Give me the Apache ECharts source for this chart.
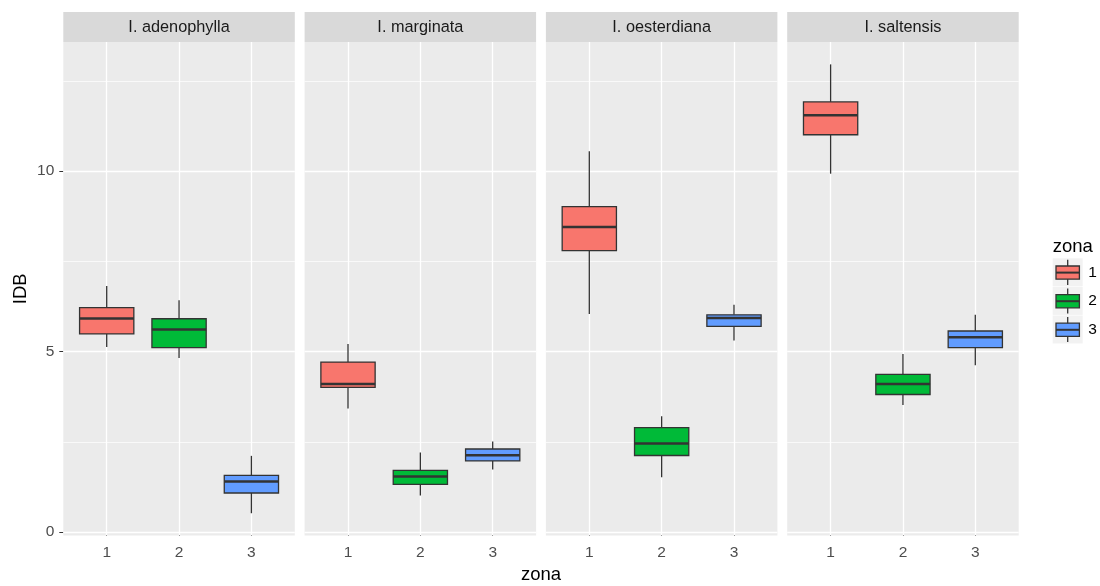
<!DOCTYPE html>
<html>
<head>
<meta charset="utf-8">
<script src="https://cdn.jsdelivr.net/npm/echarts@6/dist/echarts.min.js"></script>
<style>html,body{margin:0;padding:0;background:#fff;}#c{width:1100px;height:586px;}</style>
</head>
<body>
<div id="c"></div>
<script>
// ---- data ----
const facets = ['I. adenophylla', 'I. marginata', 'I. oesterdiana', 'I. saltensis'];
const zones = ['1', '2', '3'];
// per facet, per zone (1,2,3)
const whiskerLow = [[5.13, 4.82, 0.52], [3.42, 1.01, 1.73], [6.04, 1.52, 5.31], [9.93, 3.52, 4.62]];
const quartile1  = [[5.49, 5.11, 1.08], [4.01, 1.32, 1.97], [7.80, 2.12, 5.70], [11.01, 3.81, 5.11]];
const medians    = [[5.92, 5.61, 1.40], [4.10, 1.54, 2.13], [8.45, 2.45, 5.93], [11.55, 4.10, 5.40]];
const quartile3  = [[6.22, 5.91, 1.57], [4.71, 1.71, 2.30], [9.02, 2.89, 6.02], [11.92, 4.37, 5.57]];
const whiskerHigh= [[6.82, 6.42, 2.11], [5.21, 2.20, 2.51], [10.55, 3.21, 6.30], [12.96, 4.93, 6.02]];
const yTicks = [0, 5, 10];
const yMinorTicks = [2.5, 7.5, 12.5];
const xTicks = [1, 2, 3];

// ---- styling ----
const FONT = 'Liberation Sans, Arial, sans-serif';
const fills = ['#F8766D', '#00BA38', '#619CFF'];
const edge = '#333333';
const panelLeft0 = 63.3, panelStep = 241.3, panelW = 231.5;
const panelTop = 42, panelBottom = 535.6;
const yMin = -0.1, yMax = 13.58;

const chart = echarts.init(document.getElementById('c'), null, {renderer: 'canvas'});

function renderBox(params, api) {
  const x = api.value(0);
  const lo = api.coord([x, api.value(1)]);
  const q1 = api.coord([x, api.value(2)]);
  const md = api.coord([x, api.value(3)]);
  const q3 = api.coord([x, api.value(4)]);
  const hi = api.coord([x, api.value(5)]);
  const w = api.size([0.75, 0])[0];
  const col = fills[api.value(6)];
  const cx = md[0];
  return {
    type: 'group',
    children: [
      {type: 'line', shape: {x1: cx, y1: lo[1], x2: cx, y2: q1[1]}, style: {stroke: edge, lineWidth: 1.3}},
      {type: 'line', shape: {x1: cx, y1: q3[1], x2: cx, y2: hi[1]}, style: {stroke: edge, lineWidth: 1.3}},
      {type: 'rect', shape: {x: cx - w / 2, y: q3[1], width: w, height: q1[1] - q3[1]},
        style: {fill: col, stroke: edge, lineWidth: 1.3}},
      {type: 'line', shape: {x1: cx - w / 2, y1: md[1], x2: cx + w / 2, y2: md[1]}, style: {stroke: edge, lineWidth: 2.5}}
    ]
  };
}

const grids = [], xAxes = [], yAxes = [], series = [], graphics = [];
facets.forEach((name, i) => {
  const left = panelLeft0 + i * panelStep;
  grids.push({
    left: left, width: panelW, top: panelTop, bottom: 586 - panelBottom,
    show: true, backgroundColor: '#EBEBEB', borderWidth: 0, containLabel: false
  });
  xAxes.push({
    type: 'value', gridIndex: i, min: 0.4, max: 3.6,
    splitLine: {show: false}, axisLine: {show: false},
    axisTick: {show: true, customValues: xTicks, length: 4, lineStyle: {color: edge, width: 1}},
    axisLabel: {show: true, customValues: xTicks, margin: 9, fontSize: 15.5, fontFamily: FONT, color: '#4D4D4D',
      formatter: v => String(v)}
  });
  yAxes.push({
    type: 'value', gridIndex: i, min: yMin, max: yMax,
    splitLine: {show: false}, axisLine: {show: false},
    axisTick: {show: i === 0, customValues: yTicks, length: 4, lineStyle: {color: edge, width: 1}},
    axisLabel: {show: i === 0, customValues: yTicks, margin: 9, fontSize: 15.5, fontFamily: FONT, color: '#4D4D4D',
      formatter: v => String(v)}
  });
  const data = zones.map((z, k) => [xTicks[k], whiskerLow[i][k], quartile1[i][k], medians[i][k], quartile3[i][k], whiskerHigh[i][k], k]);
  const lineData = [];
  yTicks.forEach(v => lineData.push({yAxis: v, lineStyle: {width: 1.3}}));
  yMinorTicks.forEach(v => lineData.push({yAxis: v, lineStyle: {width: 0.7}}));
  xTicks.forEach(v => lineData.push({xAxis: v, lineStyle: {width: 1.3}}));
  series.push({
    type: 'custom', xAxisIndex: i, yAxisIndex: i, z: 3,
    renderItem: renderBox, data: data,
    encode: {x: 0, y: [1, 2, 3, 4, 5]},
    markLine: {
      silent: true, z: 1, symbol: ['none', 'none'], animation: false,
      label: {show: false},
      lineStyle: {color: '#FFFFFF', type: 'solid', width: 1.3},
      emphasis: {disabled: true},
      data: lineData
    }
  });
  // strip
  graphics.push({
    type: 'rect', left: left, top: 12, silent: true,
    shape: {width: panelW, height: panelTop - 12},
    style: {fill: '#D9D9D9'}
  });
  graphics.push({
    type: 'text', x: left + panelW / 2, y: 27.5, silent: true,
    style: {text: name, fill: '#1A1A1A', font: '16.3px ' + FONT, align: 'center', verticalAlign: 'middle'}
  });
});

// axis titles
graphics.push({
  type: 'text', x: (panelLeft0 + panelLeft0 + 3 * panelStep + panelW) / 2, y: 575, silent: true,
  style: {text: 'zona', fill: '#000', font: '18.5px ' + FONT, align: 'center', verticalAlign: 'middle'}
});
graphics.push({
  type: 'text', x: 20.5, y: (panelTop + panelBottom) / 2, rotation: Math.PI / 2, silent: true,
  style: {text: 'IDB', fill: '#000', font: '18.5px ' + FONT, align: 'center', verticalAlign: 'middle'}
});

// legend
const legX = 1052.7, legY = 258.3, keyW = 30, keyH = 28.6;
graphics.push({
  type: 'text', x: legX, y: 246.5, silent: true,
  style: {text: 'zona', fill: '#000', font: '18.5px ' + FONT, align: 'left', verticalAlign: 'middle'}
});
zones.forEach((z, k) => {
  const y0 = legY + k * keyH;
  const cx = legX + keyW / 2, cy = y0 + keyH / 2;
  graphics.push({type: 'rect', x: legX, y: y0, silent: true, shape: {width: keyW, height: keyH - 0.6}, style: {fill: '#F2F2F2'}});
  graphics.push({type: 'line', silent: true, shape: {x1: cx, y1: y0 + 1.5, x2: cx, y2: y0 + keyH - 2}, style: {stroke: edge, lineWidth: 1.3}});
  graphics.push({type: 'rect', silent: true, shape: {x: legX + 3.3, y: cy - 6.6, width: keyW - 6.6, height: 13.2}, style: {fill: fills[k], stroke: edge, lineWidth: 1.3}});
  graphics.push({type: 'line', silent: true, shape: {x1: legX + 3.3, y1: cy, x2: legX + keyW - 3.3, y2: cy}, style: {stroke: edge, lineWidth: 2}});
  graphics.push({
    type: 'text', x: legX + keyW + 5.5, y: cy, silent: true,
    style: {text: z, fill: '#000', font: '15.5px ' + FONT, align: 'left', verticalAlign: 'middle'}
  });
});

chart.setOption({
  animation: false,
  backgroundColor: '#FFFFFF',
  grid: grids,
  xAxis: xAxes,
  yAxis: yAxes,
  series: series,
  graphic: {elements: graphics}
});
</script>
</body>
</html>
